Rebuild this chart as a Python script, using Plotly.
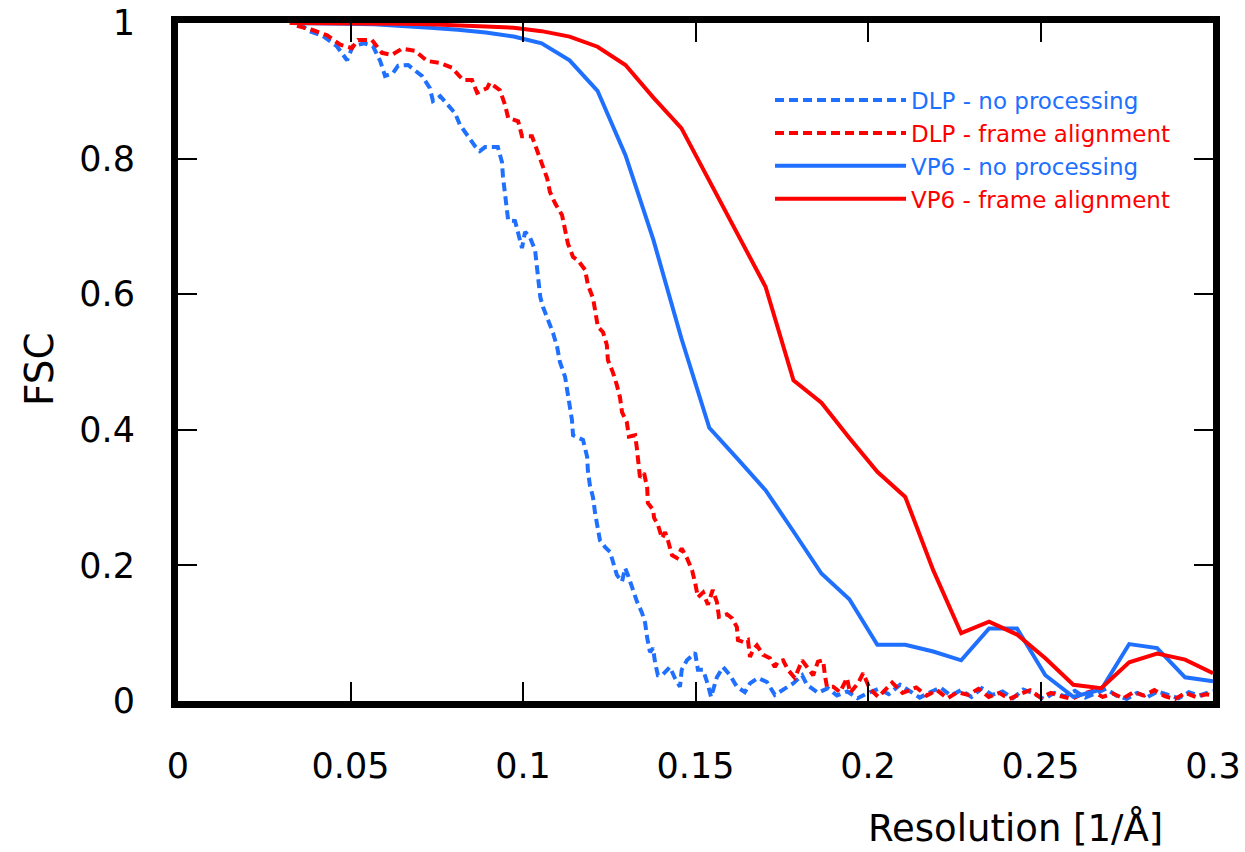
"""
FSC curves for DLP and VP6 reconstructions, with and without frame alignment.
"""
import plotly.graph_objects as go

BLUE = "#2070FF"
RED = "#FF0000"
FONT = "DejaVu Sans"

# VP6 curves share one resolution grid
vp6_x = [0.0324, 0.0405, 0.0486, 0.0568, 0.0649, 0.073, 0.0811, 0.0892, 0.0973,
         0.1054, 0.1135, 0.1216, 0.1297, 0.1378, 0.1459, 0.154, 0.1622, 0.1703,
         0.1784, 0.1865, 0.1946, 0.2027, 0.2108, 0.2189, 0.227, 0.2351, 0.2432,
         0.2514, 0.2595, 0.2676, 0.2757, 0.2838, 0.2919, 0.3]
vp6_noproc = [1.0, 1.0, 0.999, 0.998, 0.996, 0.993, 0.99, 0.986, 0.98,
              0.97, 0.945, 0.90, 0.805, 0.68, 0.535, 0.403, 0.357, 0.311,
              0.25, 0.188, 0.15, 0.083, 0.083, 0.073, 0.06, 0.107, 0.107,
              0.038, 0.006, 0.017, 0.084, 0.078, 0.035, 0.029]
vp6_align = [1.0, 1.0, 1.0, 1.0, 0.999, 0.998, 0.997, 0.995, 0.993,
             0.988, 0.98, 0.965, 0.938, 0.89, 0.845, 0.767, 0.689, 0.611,
             0.473, 0.44, 0.388, 0.338, 0.301, 0.193, 0.10, 0.117, 0.098,
             0.063, 0.024, 0.019, 0.057, 0.070, 0.061, 0.041]

dlp_noproc_x = [0.035, 0.038, 0.042, 0.046, 0.049, 0.0507, 0.054, 0.0565, 0.0586, 0.060,
                0.0623, 0.0638, 0.0667, 0.0707, 0.073, 0.0739, 0.076, 0.0783, 0.0803, 0.0817,
                0.0838, 0.086, 0.0875, 0.089, 0.0927, 0.0939, 0.0942, 0.0948, 0.0954, 0.0957,
                0.0977, 0.0986, 0.0997, 0.1006, 0.102, 0.1035, 0.104, 0.1046, 0.105, 0.1058,
                0.1072, 0.1087, 0.1099, 0.1107, 0.1122, 0.1128, 0.1136, 0.1142, 0.1145, 0.1174,
                0.1186, 0.1188, 0.1194, 0.1203, 0.1209, 0.1217, 0.1223, 0.1238, 0.1252, 0.1261,
                0.1272, 0.1287, 0.1296, 0.1304, 0.1316, 0.133, 0.1345, 0.1354, 0.136, 0.1368,
                0.1377, 0.1383, 0.1391, 0.1403, 0.1426, 0.144, 0.1455, 0.146, 0.1475, 0.1499,
                0.1507, 0.1522, 0.1536, 0.1545, 0.1562, 0.158, 0.16, 0.162, 0.1643, 0.1658,
                0.1681, 0.1707, 0.173, 0.1754, 0.1783, 0.1809, 0.1823, 0.1855, 0.1884, 0.191,
                0.194, 0.197, 0.200, 0.203, 0.206, 0.2093, 0.212, 0.215, 0.218, 0.221,
                0.224, 0.227, 0.230, 0.233, 0.236, 0.239, 0.242, 0.245, 0.248, 0.251,
                0.254, 0.257, 0.260, 0.263, 0.266, 0.269, 0.272, 0.275, 0.278, 0.281,
                0.284, 0.287, 0.290, 0.293, 0.296, 0.300]
dlp_noproc = [1.0, 0.988, 0.981, 0.966, 0.945, 0.966, 0.970, 0.966, 0.944, 0.922,
              0.926, 0.937, 0.938, 0.922, 0.904, 0.885, 0.892, 0.879, 0.867, 0.85,
              0.835, 0.819, 0.811, 0.817, 0.817, 0.795, 0.773, 0.746, 0.724, 0.709,
              0.708, 0.69, 0.668, 0.692, 0.684, 0.665, 0.64, 0.618, 0.596, 0.581,
              0.562, 0.543, 0.522, 0.50, 0.478, 0.458, 0.437, 0.414, 0.392, 0.385,
              0.36, 0.34, 0.318, 0.30, 0.277, 0.257, 0.237, 0.227, 0.22, 0.205,
              0.186, 0.176, 0.196, 0.186, 0.168, 0.147, 0.13, 0.115, 0.093, 0.072,
              0.078, 0.056, 0.038, 0.038, 0.05, 0.034, 0.021, 0.046, 0.06, 0.071,
              0.046, 0.046, 0.024, 0.006, 0.035, 0.05, 0.038, 0.021, 0.013, 0.026,
              0.034, 0.028, 0.009, 0.016, 0.026, 0.038, 0.024, 0.012, 0.019, 0.008,
              0.014, 0.004, 0.012, 0.018, 0.010, 0.024, 0.015, 0.005, 0.013, 0.020,
              0.008, 0.016, 0.006, 0.019, 0.009, 0.014, 0.004, 0.017, 0.011, 0.003,
              0.012, 0.007, 0.015, 0.005, 0.011, 0.018, 0.008, 0.003, 0.012, 0.006,
              0.014, 0.009, 0.004, 0.013, 0.008, 0.015]

dlp_align_x = [0.0345, 0.0388, 0.0432, 0.047, 0.0504, 0.0522, 0.0562, 0.0591, 0.062, 0.0649,
               0.0687, 0.0722, 0.076, 0.0794, 0.0826, 0.0852, 0.0867, 0.0896, 0.0904, 0.0933,
               0.0948, 0.0957, 0.0986, 0.0997, 0.1026, 0.1043, 0.1055, 0.107, 0.1078, 0.1093,
               0.1113, 0.1122, 0.113, 0.1145, 0.1159, 0.118, 0.1188, 0.1203, 0.1209, 0.1217,
               0.1232, 0.1243, 0.1246, 0.1261, 0.1272, 0.1281, 0.1287, 0.1301, 0.1307, 0.1325,
               0.133, 0.1333, 0.1339, 0.1351, 0.136, 0.1362, 0.1377, 0.138, 0.1391, 0.1403,
               0.1412, 0.142, 0.1432, 0.1446, 0.146, 0.1475, 0.149, 0.1499, 0.1507, 0.1522,
               0.1536, 0.155, 0.1562, 0.1568, 0.1591, 0.1606, 0.162, 0.1623, 0.1638, 0.1652,
               0.1658, 0.1666, 0.1678, 0.1687, 0.1696, 0.1716, 0.173, 0.1739, 0.1754, 0.1768,
               0.1788, 0.1809, 0.1823, 0.1841, 0.1855, 0.187, 0.1875, 0.1881, 0.1899, 0.1919,
               0.1939, 0.1948, 0.1971, 0.1986, 0.2005, 0.203, 0.207, 0.210, 0.214, 0.217,
               0.220, 0.223, 0.226, 0.229, 0.232, 0.235, 0.238, 0.241, 0.244, 0.247,
               0.250, 0.253, 0.256, 0.259, 0.262, 0.265, 0.268, 0.271, 0.274, 0.277,
               0.280, 0.283, 0.286, 0.289, 0.292, 0.295, 0.298, 0.300]
dlp_align = [0.996, 0.99, 0.982, 0.968, 0.963, 0.975, 0.975, 0.956, 0.953, 0.962,
             0.959, 0.944, 0.941, 0.934, 0.916, 0.916, 0.897, 0.904, 0.912, 0.901,
             0.879, 0.86, 0.855, 0.833, 0.833, 0.81, 0.79, 0.771, 0.751, 0.734,
             0.717, 0.698, 0.675, 0.655, 0.65, 0.636, 0.614, 0.594, 0.572, 0.552,
             0.544, 0.525, 0.503, 0.484, 0.466, 0.448, 0.426, 0.411, 0.39, 0.392,
             0.373, 0.353, 0.33, 0.336, 0.314, 0.292, 0.282, 0.27, 0.26, 0.24,
             0.249, 0.237, 0.215, 0.211, 0.225, 0.211, 0.193, 0.174, 0.153, 0.16,
             0.142, 0.164, 0.146, 0.124, 0.128, 0.122, 0.109, 0.09, 0.087, 0.09,
             0.065, 0.075, 0.082, 0.075, 0.068, 0.063, 0.05, 0.058, 0.06, 0.046,
             0.034, 0.06, 0.05, 0.038, 0.058, 0.06, 0.038, 0.021, 0.021, 0.013,
             0.034, 0.012, 0.026, 0.041, 0.018, 0.006, 0.027, 0.012, 0.02, 0.008,
             0.016, 0.004, 0.013, 0.009, 0.018, 0.006, 0.012, 0.003, 0.010, 0.016,
             0.005, 0.012, 0.007, 0.003, 0.010, 0.015, 0.006, 0.011, 0.004, 0.013,
             0.008, 0.016, 0.007, 0.003, 0.012, 0.006, 0.010, 0.008]

x_ticks = [0, 0.05, 0.1, 0.15, 0.2, 0.25, 0.3]
x_labels = ["0", "0.05", "0.1", "0.15", "0.2", "0.25", "0.3"]
y_ticks = [0, 0.2, 0.4, 0.6, 0.8, 1]
y_labels = ["0", "0.2", "0.4", "0.6", "0.8", "1"]


def colored(name, color):
    return f"<span style='color:{color}'>{name}</span>"


fig = go.Figure()
fig.add_trace(go.Scatter(
    x=dlp_noproc_x, y=dlp_noproc, mode="lines",
    name=colored("DLP - no processing", BLUE),
    line=dict(color=BLUE, width=4, dash="9px,5px")
))
fig.add_trace(go.Scatter(
    x=dlp_align_x, y=dlp_align, mode="lines",
    name=colored("DLP - frame alignment", RED),
    line=dict(color=RED, width=4, dash="9px,5px")
))
fig.add_trace(go.Scatter(
    x=vp6_x, y=vp6_noproc, mode="lines",
    name=colored("VP6 - no processing", BLUE),
    line=dict(color=BLUE, width=4)
))
fig.add_trace(go.Scatter(
    x=vp6_x, y=vp6_align, mode="lines",
    name=colored("VP6 - frame alignment", RED),
    line=dict(color=RED, width=4)
))

axis_common = dict(
    showline=True, linecolor="black", linewidth=7, mirror="ticks",
    ticks="inside", ticklen=19, tickwidth=2, tickcolor="black",
    showgrid=False, zeroline=False, automargin=False,
    tickfont=dict(family=FONT, size=35, color="black"),
)

fig.update_xaxes(range=[0, 0.3], tickvals=x_ticks, ticktext=x_labels,
                 ticklabelstandoff=28, **axis_common)
fig.update_yaxes(range=[0, 1], tickvals=y_ticks, ticktext=y_labels,
                 ticklabelstandoff=29, **axis_common)

fig.add_annotation(text="Resolution [1/Å]", xref="paper", yref="paper",
                   x=0.954, y=-0.188, xanchor="right", yanchor="middle",
                   showarrow=False, font=dict(family=FONT, size=37, color="black"))
fig.add_annotation(text="FSC", xref="paper", yref="paper",
                   x=-0.134, y=0.49, xanchor="center", yanchor="middle",
                   textangle=-90, showarrow=False,
                   font=dict(family=FONT, size=39, color="black"))

fig.update_layout(
    width=1245, height=852,
    margin=dict(l=178, r=32, t=23, b=151),
    paper_bgcolor="white", plot_bgcolor="white",
    showlegend=True,
    legend=dict(x=0.572, y=0.918, xanchor="left", yanchor="top",
                bgcolor="rgba(0,0,0,0)", itemwidth=131, tracegroupgap=5,
                font=dict(family=FONT, size=23)),
)

# drop the default page margin so the figure fills the window exactly
fig.write_html("out.html", config={"displayModeBar": False},
               post_script="document.body.style.margin = '0';")
